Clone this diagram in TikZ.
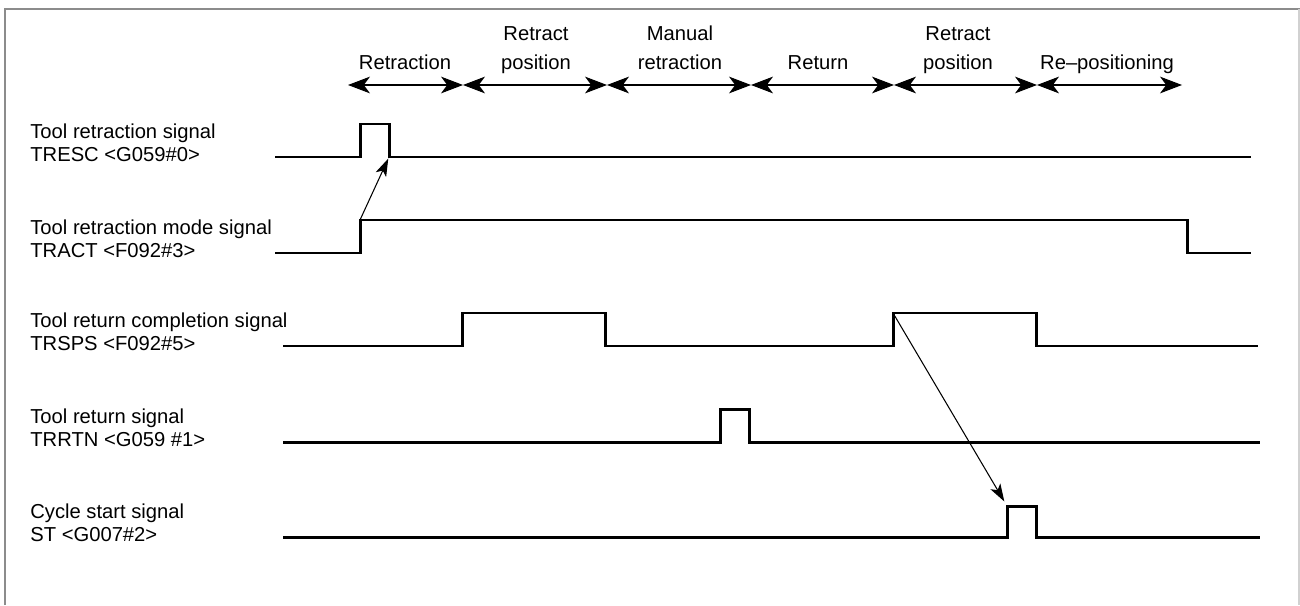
\documentclass[tikz,border=0pt]{standalone}
\usepackage{fontspec}
\setmainfont{Liberation Sans}
\usetikzlibrary{arrows.meta}

\begin{document}
\begin{tikzpicture}[
        x = 0.02cm, y = -0.02cm,
        font = \fontsize{11.5}{12.8}\selectfont,
        siglabel/.style = {anchor=base west, align=left, inner sep=0pt},
        phase/.style = {anchor=base, align=center, inner sep=0pt, font=\fontsize{11.5}{16.5}\selectfont},
        wave/.style = {line width=1.7pt, line join=miter},
        span/.style = {{Stealth[length=12.5pt, width=9.5pt, inset=3.5pt]}-{Stealth[length=12.5pt, width=9.5pt, inset=3.5pt]}, line width=0.6pt},
        cause/.style = {-{Stealth[length=10pt, width=6.5pt, inset=2.5pt]}, line width=0.6pt},
        frameline/.style = {line width=1.1pt, draw=black!45}
    ]
        \useasboundingbox (0,0) rectangle (1300,605);

        % Frame
        \draw [frameline] (5,605) -- (5,9) -- (1300,9);
        \draw [line width=0.6pt, draw=black!18] (1299,9) -- (1299,605);

        % Phases on top
        \coordinate (p0) at (348,85);
        \coordinate (p1) at (463,85);
        \coordinate (p2) at (607,85);
        \coordinate (p3) at (751,85);
        \coordinate (p4) at (894,85);
        \coordinate (p5) at (1037,85);
        \coordinate (p6) at (1182,85);
        \draw [span] (p0) -- (p1);
        \draw [span] (p1) -- (p2);
        \draw [span] (p2) -- (p3);
        \draw [span] (p3) -- (p4);
        \draw [span] (p4) -- (p5);
        \draw [span] (p5) -- (p6);

        \node [phase] (phRetraction) at (405,69) {Retraction};
        \node [phase] (phRetractPos) at (536,69) {Retract\\position};
        \node [phase] (phManual) at (680,69) {Manual\\retraction};
        \node [phase] (phReturn) at (818,69) {Return};
        \node [phase] (phRetractPosB) at (958,69) {Retract\\position};
        \node [phase] (phRepos) at (1107,69) {Re–positioning};

        % Signal labels
        \node [siglabel] (lblTRESC) at (30,161) {Tool retraction signal\\TRESC <G059\#0>};
        \node [siglabel] (lblTRACT) at (30,257) {Tool retraction mode signal\\TRACT <F092\#3>};
        \node [siglabel] (lblTRSPS) at (30,350) {Tool return completion signal\\TRSPS <F092\#5>};
        \node [siglabel] (lblTRRTN) at (30,446) {Tool return signal\\TRRTN <G059 \#1>};
        \node [siglabel] (lblST) at (30,541) {Cycle start signal\\ST <G007\#2>};

        % Waveforms
        \draw [wave] (275,157) -| (360,124) -| (389,157) coordinate (trescDown) -- (1251,157);
        \draw [wave] (275,253) -| (360,220) coordinate (tractUp) -| (1187,253) -- (1251,253);
        \draw [wave] (283,346) -| (462,313) -| (605,346) -| (893,313) coordinate (trspsUp) -| (1036,346) -- (1258,346);
        \draw [wave] (283,442) -| (720,409) -| (749,442) -- (1260,442);
        \draw [wave] (283,537) -| (1007,506) coordinate (stUp) -| (1036,537) -- (1260,537);

        % Cause arrows
        \draw [cause, shorten >=1pt] (tractUp) -- (trescDown);
        \draw [cause, shorten >=3pt] (trspsUp) -- (stUp);

    \end{tikzpicture}
\end{document}
